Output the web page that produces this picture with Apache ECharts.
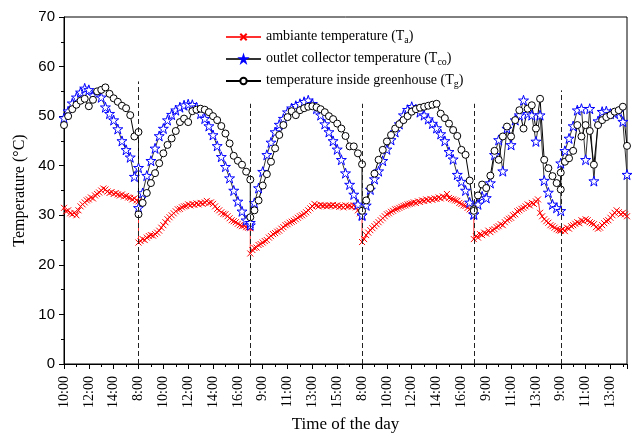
<!DOCTYPE html>
<html>
<head>
<meta charset="utf-8">
<script src="https://cdn.jsdelivr.net/npm/echarts@6/dist/echarts.min.js"></script>
<style>html,body{margin:0;padding:0;background:#fff;}#c{width:632px;height:438px;}</style>
</head>
<body>
<div id="c"></div>
<script>
// x unit: sample index, one sample = 20 min; a major tick every 6 samples (2 h)
const tickLabels = ['10:00','12:00','14:00','8:00','10:00','12:00','14:00','16:00','9:00','11:00','13:00','15:00','8:00','10:00','12:00','14:00','16:00','9:00','11:00','13:00','9:00','11:00','13:00'];
const dayStarts = [0, 18, 45, 72, 99, 120];
const dividers = [18, 45, 72, 99, 120];
const dividerTops = [57, 52.5, 52.5, 52.5, 55.2];

// Ambient temperature Ta (10-min samples)
const taDay1 = [31.5,30.8,31,30.4,30.2,30.5,30,31,31.8,32.2,32.6,33,33.2,33.6,33.4,34,34.3,34.6,35,35.4,35.2,34.8,34.5,34.7,34.3,34.5,34.2,34,34.2,33.8,33.9,33.6,33.5,33.2,33.4,33,32.8];
const taDay2 = [24.5,24.8,25.2,25,25.5,25.8,26,25.9,26.2,26.5,26.9,27.5,28,28.6,29.2,29.6,30,30.4,30.8,31.2,31.3,31.6,31.8,31.9,32.2,32,32.3,32.1,32.4,32.2,32.5,32.3,32.6,32.9,32.5,32.6,32.3,31.8,31.3,31,30.6,30.3,30.2,29.8,29.4,29,28.8,28.6,28.3,28,27.8,27.9,27.6,27.5,27.4];
const taDay3 = [22.3,23,23.4,23.5,24,24.2,24.5,24.8,25,25.5,25.8,26.2,26.4,26.7,26.9,27.3,27.6,28,28.2,28.5,28.7,28.9,29.2,29.5,29.8,30,30.3,30.6,31,31.4,31.8,32.3,32,31.8,32.1,31.9,32,31.8,32,31.9,32.1,31.8,32,31.7,31.9,31.6,32,31.8,31.9,31.7,32,31.6,31,30.4,30];
const taDay4 = [24.6,25.2,26,26.5,27,27.4,27.8,28.2,28.6,29,29.4,29.8,30.2,30.4,30.7,30.9,31.2,31.3,31.5,31.7,31.9,32,32.2,32.3,32.4,32.6,32.5,32.8,32.7,33,32.9,33.2,33,33.3,33.1,33.4,33.3,33.6,33.4,33.8,33.6,34.3,33.5,33.3,33.2,33,32.9,32.5,32.3,32,31.9,31.5,31.2,31,30.8];
const taDay5 = [25.2,25.8,25.5,26.2,26,26.5,26.3,26.9,26.6,27,27.2,27.6,27.8,28.2,28,28.6,29,29.3,29.5,30,30.2,30.8,31,31.3,31.5,31.8,32.2,32,32.5,32.3,32.8,33.2,30.5,29.8,29.2,28.8,28.5,28,27.8,27.5,27.2,27,26.9];
const taDay6 = [27,27.2,26.8,27.5,27.3,27.8,28,28.3,28.6,28.4,29,28.8,29.2,29,28.6,28.4,28.2,27.6,27.3,27.5,28,28.4,28.8,29,29.5,30,30.5,31,30.6,30.2,30.5,30.2,29.8];

// Outlet collector temperature Tco (20-min samples)
const tcoDay1 = [49.6,51,52.6,53.8,54.8,55.6,55.3,54.2,54.5,53.8,51.8,50.5,49.2,47.4,45,43.2,41.7,37.8,39.6];
const tcoDay2 = [31.5,34.5,38,41,43.5,46,47.5,49.2,50.3,51.2,51.8,52.2,52.4,52.3,51.8,50.5,49.5,48,46.2,44,41.8,39.8,37.5,35,32.8,30.8,29,28];
const tcoDay3 = [28.5,32.5,35.5,38.8,42.2,44.7,46.8,48.3,49.5,50.8,51.6,52.1,52.5,52.9,53.2,52.5,51.5,50.2,48.4,46.8,45,43.3,41.2,38.5,36.2,34.2,32.2,30];
const tcoDay4 = [30,32,35.2,37.3,38.9,41,43.3,45.2,46.8,48.4,50.2,51.3,51.9,51.4,50.8,50.2,49.4,48.5,47.6,46.4,45,42.8,41.3,38.2,36.8,35,32.6,30.2];
const tcoDay5 = [30.2,32.2,33.8,33.5,36.5,42.2,45.2,38.9,47.5,44.2,49.2,50.2,53.2,50.5,50.2,44.9,50.2,37,34.6,32.2,31.5,30.9];
const tcoDay6 = [40.5,43,45.5,48,51.2,51.5,41.2,51.5,36.9,49,50.9,51,50.5,50.5,50.9,48.9,38.2];

// Greenhouse inside temperature Tg (20-min samples)
const tgDay1 = [48.2,50,51.4,52.3,53.1,53.5,52,53.3,55,55.3,55.8,54.5,53.6,52.9,52.1,51.6,50.2,45.9,46.8];
const tgDay2 = [30.2,32.5,34.5,36.5,38.5,40.5,42.5,44.2,45.5,47,48.8,49.5,48.8,51,51.3,51.5,51.3,50.8,50,49.2,48,46.5,44.5,42,41,40.2,38.8,37.2];
const tgDay3 = [29.6,31,33,36,38.3,40.8,43.5,46.2,48.2,49.8,51,50.2,51.2,51.6,51.9,52,51.8,51.4,50.8,50,49.4,48.5,47.5,46,43.9,43.9,42.5,40.3];
const tgDay4 = [30.9,33,35.5,38.4,41.2,43.2,44.9,46.2,47.5,48.4,49.2,50,50.9,51.4,51.7,51.9,52.1,52.3,52.5,50.5,49.6,48.5,47.2,46,43.2,42.2,37,31.2];
const tgDay5 = [30.9,34,36.2,35.5,38,43,41.2,45.9,47.9,45.9,49.2,51.2,47.5,51.5,52.2,47.5,53.5,41.2,39.5,37.9,36.5,35.2];
const tgDay6 = [38.6,40.8,41.5,43,48.2,45.9,48.2,47,40.2,48.2,49.2,49.8,50.2,50.9,51.2,51.9,44];

function build(days, step) {
  const out = [];
  days.forEach((arr, d) => arr.forEach((v, k) => out.push([dayStarts[d] + k * step, v])));
  return out;
}
const taData = build([taDay1, taDay2, taDay3, taDay4, taDay5, taDay6], 0.5);
const tcoData = build([tcoDay1, tcoDay2, tcoDay3, tcoDay4, tcoDay5, tcoDay6], 1);
const tgData = build([tgDay1, tgDay2, tgDay3, tgDay4, tgDay5, tgDay6], 1);

const names = ['ambiante temperature (Ta)', 'outlet collector temperature (Tco)', 'temperature inside greenhouse (Tg)'];
const legendRich = {
  [names[0]]: '{n|ambiante temperature (T}{s|a}{n|)}',
  [names[1]]: '{n|outlet collector temperature (T}{s|co}{n|)}',
  [names[2]]: '{n|temperature inside greenhouse (T}{s|g}{n|)}'
};

const SERIF = '"Liberation Serif", "Times New Roman", serif';
const SANS = '"Liberation Sans", Arial, sans-serif';
const crossPath = 'path://M0,0L10,10M10,0L0,10';
const starPath = 'path://M50,2L61,36L97,36L68,57L79,92L50,70L21,92L32,57L3,36L39,36Z';

const chart = echarts.init(document.getElementById('c'), null, {renderer: 'canvas'});
chart.setOption({
  animation: false,
  backgroundColor: '#fff',
  grid: {left: 64, right: 5, top: 17, bottom: 72, show: true, borderColor: '#000', borderWidth: 1},
  legend: {
    orient: 'vertical', left: 220, top: 24, itemWidth: 35, itemHeight: 8, itemGap: 6,
    data: names,
    formatter: n => legendRich[n],
    textStyle: {
      fontFamily: SERIF, fontSize: 14, color: '#000',
      rich: {
        n: {fontFamily: SERIF, fontSize: 14, color: '#000', verticalAlign: 'top', lineHeight: 16},
        s: {fontFamily: SERIF, fontSize: 10, color: '#000', verticalAlign: 'top', lineHeight: 16, padding: [6, 0, 0, 0]}
      }
    }
  },
  xAxis: {
    type: 'value', min: 0, max: 136, interval: 6,
    name: 'Time of the day', nameLocation: 'middle', nameGap: 52,
    nameTextStyle: {fontFamily: SERIF, fontSize: 17, color: '#000'},
    axisLine: {show: true, lineStyle: {color: '#000', width: 1}},
    axisTick: {show: true, inside: false, length: 5, lineStyle: {color: '#000'}},
    minorTick: {show: true, splitNumber: 2, length: 3, lineStyle: {color: '#000'}},
    splitLine: {show: false},
    axisLabel: {
      rotate: 90, margin: 12, fontFamily: SERIF, fontSize: 14, color: '#000',
      formatter: v => (v % 6 === 0 && v / 6 < tickLabels.length) ? tickLabels[v / 6] : ''
    }
  },
  yAxis: {
    type: 'value', min: 0, max: 70, interval: 10,
    name: 'Temperature (°C)', nameLocation: 'middle', nameGap: 32,
    nameTextStyle: {fontFamily: SERIF, fontSize: 16, color: '#000'},
    axisLine: {show: true, lineStyle: {color: '#000', width: 1}},
    axisTick: {show: true, inside: false, length: 5, lineStyle: {color: '#000'}},
    minorTick: {show: true, splitNumber: 2, length: 3, lineStyle: {color: '#000'}},
    splitLine: {show: false},
    axisLabel: {margin: 9, fontFamily: SANS, fontSize: 15, color: '#000'}
  },
  series: [
    {
      name: names[0], type: 'line', data: taData,
      symbol: crossPath, symbolSize: 6, showSymbol: true, showAllSymbol: true,
      lineStyle: {color: '#ff3030', width: 1},
      itemStyle: {color: '#ff0000', borderColor: '#ff0000', borderWidth: 1},
      markLine: {
        silent: true, symbol: ['none', 'none'], label: {show: false},
        lineStyle: {color: '#222', type: [5, 3], width: 1},
        data: dividers.map((d, i) => [{coord: [d, 0]}, {coord: [d, dividerTops[i]]}])
      }
    },
    {
      name: names[1], type: 'line', data: tcoData,
      symbol: starPath, symbolSize: 10, showSymbol: true, showAllSymbol: true,
      lineStyle: {color: '#333', width: 1},
      itemStyle: {color: '#ffffff', borderColor: '#0000ff', borderWidth: 1}
    },
    {
      name: names[2], type: 'line', data: tgData,
      symbol: 'circle', symbolSize: 7, showSymbol: true, showAllSymbol: true,
      lineStyle: {color: '#000', width: 1},
      itemStyle: {color: '#ffffff', borderColor: '#000', borderWidth: 1}
    }
  ]
});
</script>
</body>
</html>
